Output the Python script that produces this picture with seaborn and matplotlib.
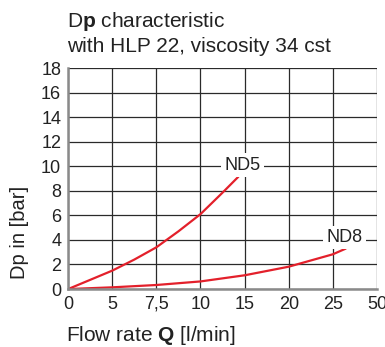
"""Dp characteristic chart for ND5 / ND8 valves."""

import matplotlib
matplotlib.use("Agg")
import matplotlib.pyplot as plt
import numpy as np
import pandas as pd
import seaborn as sns

# x ticks are equally spaced in the drawing, not linear in Q
x_ticks = [0, 5, 7.5, 10, 15, 20, 25, 50]
x_tick_labels = ["0", "5", "7,5", "10", "15", "20", "25", "50"]
y_ticks = [0, 2, 4, 6, 8, 10, 12, 14, 16, 18]

q_nd5 = [0, 5, 6.25, 7.5, 8.75, 10, 12.5, 14.3]
dp_nd5 = [0, 1.5, 2.4, 3.4, 4.7, 6.1, 7.85, 9.15]

q_nd8 = [0, 5, 7.5, 10, 15, 20, 25, 32.3]
dp_nd8 = [0, 0.14, 0.33, 0.62, 1.12, 1.82, 2.83, 3.29]

series_names = ["ND5", "ND8"]
label_pos = {"ND5": (14.8, 10.1), "ND8": (31.5, 4.2)}

RED = "#e3202b"
TEXT = "#222222"

sns.set_style("white")
plt.rcParams["font.family"] = ["Liberation Sans", "DejaVu Sans"]
plt.rcParams["mathtext.fontset"] = "custom"
plt.rcParams["mathtext.rm"] = "Liberation Sans"
plt.rcParams["mathtext.bf"] = "Liberation Sans:bold"

df = pd.concat(
    [
        pd.DataFrame({"Q": q_nd5, "dp": dp_nd5, "valve": "ND5"}),
        pd.DataFrame({"Q": q_nd8, "dp": dp_nd8, "valve": "ND8"}),
    ],
    ignore_index=True,
)

idx = np.arange(len(x_ticks), dtype=float)


def fwd(x):
    return np.interp(x, x_ticks, idx)


def inv(p):
    return np.interp(p, idx, x_ticks)


fig = plt.figure(figsize=(3.85, 3.47), dpi=100)
ax = fig.add_axes([0.177, 0.167, 0.802, 0.637])
ax.set_xscale("function", functions=(fwd, inv))

sns.lineplot(
    data=df, x="Q", y="dp", hue="valve", palette=[RED, RED],
    linewidth=1.6, legend=False, sort=False, ax=ax,
)

ax.set_xlim(0, 50)
ax.set_ylim(0, 18)
ax.set_xticks(x_ticks)
ax.set_xticklabels(x_tick_labels)
ax.set_yticks(y_ticks)
ax.minorticks_off()
ax.grid(True, color="#2a2a2a", linewidth=0.9)
ax.tick_params(axis="both", labelsize=13, colors=TEXT, length=3,
               width=0.9, pad=2, direction="out")
ax.tick_params(axis="both", color="#2a2a2a")
for side in ("top", "right"):
    ax.spines[side].set_visible(False)
for side in ("left", "bottom"):
    ax.spines[side].set_color("#8a8a8a")
    ax.spines[side].set_linewidth(1.8)

for name in series_names:
    x, y = label_pos[name]
    ax.text(x, y, name, fontsize=13, color=TEXT, ha="center", va="center",
            bbox=dict(facecolor="white", edgecolor="none", pad=2.5), zorder=5)

ax.set_xlabel("")
ax.set_ylabel("")
fig.text(0.174, 0.922, r"D$\mathbf{p}$ characteristic", fontsize=15,
         color=TEXT, ha="left", va="baseline")
fig.text(0.174, 0.850, "with HLP 22, viscosity 34 cst", fontsize=15,
         color=TEXT, ha="left", va="baseline")
fig.text(0.172, 0.018, r"Flow rate $\mathbf{Q}$ [l/min]", fontsize=15,
         color=TEXT, ha="left", va="baseline")
fig.text(0.05, 0.331, "Dp in [bar]", fontsize=14.5, color=TEXT,
         rotation=90, ha="center", va="center")

fig.savefig("out.png", dpi=100)
